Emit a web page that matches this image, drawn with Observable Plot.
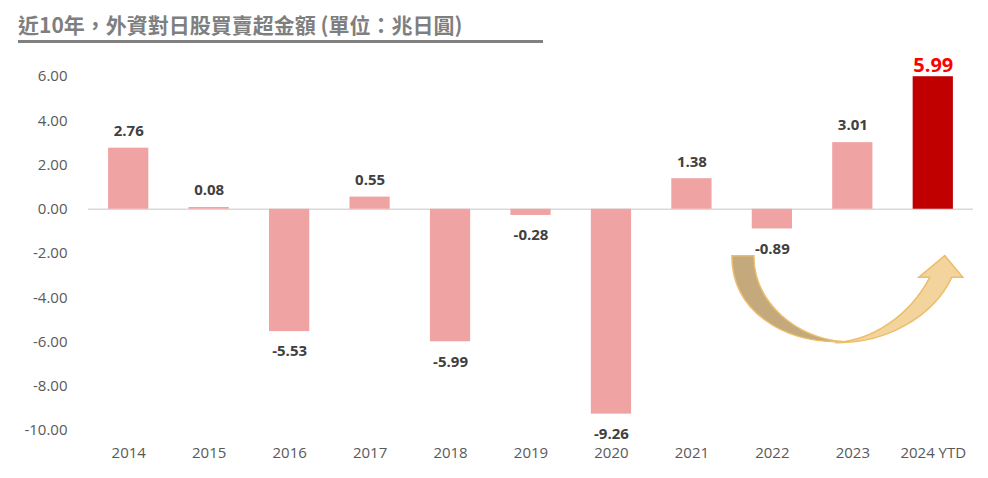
<!DOCTYPE html>
<html>
<head>
<meta charset="utf-8">
<script src="https://cdn.jsdelivr.net/npm/d3@7"></script>
<script src="https://cdn.jsdelivr.net/npm/@observablehq/plot@0.6"></script>
<style>
  html, body { margin: 0; padding: 0; background: #fff; }
  #wrap { position: relative; width: 988px; height: 478px; overflow: hidden; }
  #title { position: absolute; left: 18px; top: 10px; font-family: "Noto Sans CJK TC", "Noto Sans", sans-serif; font-weight: 700; font-size: 21px; line-height: 28px; color: #7f7f7f; white-space: nowrap; }
  #rule { position: absolute; left: 18px; top: 40px; width: 525px; height: 3px; background: #808080; }
  #chart { position: absolute; left: 0; top: 0; }
</style>
</head>
<body>
<div id="wrap">
  <div id="chart"></div>
  <div id="title">近10年，外資對日股買賣超金額 (單位：兆日圓)</div>
  <div id="rule"></div>
</div>
<script>
const years = ["2014", "2015", "2016", "2017", "2018", "2019", "2020", "2021", "2022", "2023", "2024 YTD"];
const values = [2.76, 0.08, -5.53, 0.55, -5.99, -0.28, -9.26, 1.38, -0.89, 3.01, 5.99];
const yTicks = [6, 4, 2, 0, -2, -4, -6, -8, -10];
const highlight = "2024 YTD";

const data = years.map((year, i) => ({ year, value: values[i] }));
const normal = data.filter(d => d.year !== highlight);
const hi = data.filter(d => d.year === highlight);

const font = "'Open Sans', 'Noto Sans', sans-serif";

function arrowMark(index, scales) {
  const x = scales.x, y = scales.y;
  const bw = x.bandwidth();
  const c22 = x("2022") + bw / 2;
  const c24 = x("2024 YTD") + bw / 2;
  const yT = y(-2.12), yb = y(-6.05), yH = y(-3.1);
  const L0 = c22 - 40, L1 = c22 - 18, xb = c22 + 71;
  const tip = c24 + 12, hl = c24 - 14, hr = c24 + 30, sl = c24 - 3, sr = c24 + 19;
  const ns = "http://www.w3.org/2000/svg";
  const g = document.createElementNS(ns, "g");
  const left = document.createElementNS(ns, "path");
  left.setAttribute("d", `M${L0},${yT} L${L1},${yT} C${L1},${yT + 48} ${xb - 45},${yb - 4} ${xb},${yb - 1} C${xb - 60},${yb + 1} ${L0},${yb - 32} ${L0},${yT} Z`);
  left.setAttribute("fill", "#c4a97c");
  left.setAttribute("stroke", "#ecbe6c");
  left.setAttribute("stroke-width", "1.5");
  const right = document.createElementNS(ns, "path");
  right.setAttribute("d", `M${xb - 8},${yb} C${xb + 45},${yb + 1} ${sr - 18},${yH + 38} ${sr},${yH} L${hr},${yH} L${tip},${yT} L${hl},${yH} L${sl},${yH} C${sl - 20},${yH + 38} ${xb + 30},${yb - 2} ${xb - 8},${yb} Z`);
  right.setAttribute("fill", "#f3d49d");
  right.setAttribute("stroke", "#ecbe6c");
  right.setAttribute("stroke-width", "1.5");
  g.appendChild(left);
  g.appendChild(right);
  return g;
}

const plot = Plot.plot({
  width: 988,
  height: 478,
  marginTop: 76,
  marginBottom: 48,
  marginLeft: 88,
  marginRight: 15,
  style: { fontFamily: font, fontSize: "15px", color: "#595959", background: "transparent" },
  x: { domain: years, paddingInner: 0.5, paddingOuter: 0.25, round: false, label: null, tickSize: 0, tickPadding: 17 },
  y: { domain: [-10, 6], ticks: yTicks, tickFormat: d => d.toFixed(2), label: null, tickSize: 0, tickPadding: 21 },
  marks: [
    Plot.ruleY([0], { stroke: "#d9d9d9", strokeWidth: 1.5 }),
    Plot.barY(normal, { x: "year", y: "value", fill: "#f0a3a3" }),
    Plot.barY(hi, { x: "year", y: "value", fill: "#c00000" }),
    Plot.text(normal.filter(d => d.value >= 0), { x: "year", y: "value", text: d => d.value.toFixed(2), dy: -17, fontWeight: 700, fontSize: 15, fill: "#404040" }),
    Plot.text(normal.filter(d => d.value < 0), { x: "year", y: "value", text: d => d.value.toFixed(2), dy: 20, fontWeight: 700, fontSize: 15, fill: "#404040" }),
    Plot.text(hi, { x: "year", y: "value", text: d => d.value.toFixed(2), dy: -11, fontWeight: 700, fontSize: 20, fill: "#ff0000" }),
    arrowMark
  ]
});
document.getElementById("chart").appendChild(plot);
</script>
</body>
</html>
